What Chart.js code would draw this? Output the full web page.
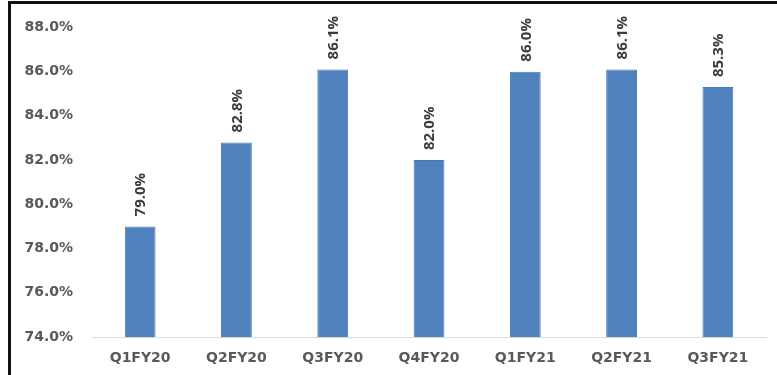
<!DOCTYPE html>
<html>
<head>
<meta charset="utf-8">
<script src="https://cdn.jsdelivr.net/npm/chart.js@4"></script>
<style>
    body { margin: 0; background: #fff; }
    #wrap { position: relative; width: 777px; height: 375px; }
    #frame {
        position: absolute; left: 8px; top: 1px; right: 0; bottom: 0;
        border-left: 3px solid #111; border-top: 3px solid #111;
        pointer-events: none;
    }
</style>
</head>
<body>
<div id="wrap">
    <canvas id="barChart" width="777" height="375"></canvas>
    <div id="frame"></div>
</div>
<script>
const quarters = ['Q1FY20', 'Q2FY20', 'Q3FY20', 'Q4FY20', 'Q1FY21', 'Q2FY21', 'Q3FY21'];
const shareValues = [79.0, 82.8, 86.1, 82.0, 86.0, 86.1, 85.3];
const yTicks = [74, 76, 78, 80, 82, 84, 86, 88];

// rotated value labels above each bar
const barLabels = {
    id: 'barLabels',
    afterDatasetsDraw(chart) {
        const ctx = chart.ctx;
        const meta = chart.getDatasetMeta(0);
        ctx.save();
        ctx.font = 'bold 15px "Open Sans"';
        ctx.fillStyle = '#3c3c3c';
        ctx.textAlign = 'left';
        ctx.textBaseline = 'middle';
        meta.data.forEach((bar, i) => {
            ctx.save();
            ctx.translate(bar.x + 1, bar.y - 10);
            ctx.rotate(-Math.PI / 2);
            ctx.fillText(shareValues[i].toFixed(1) + '%', 0, 0);
            ctx.restore();
        });
        ctx.restore();
    }
};

const ctx = document.getElementById('barChart').getContext('2d');
new Chart(ctx, {
    type: 'bar',
    data: {
        labels: quarters,
        datasets: [{
            data: shareValues,
            backgroundColor: '#4f81bd',
            borderColor: '#4a7ab5',
            borderWidth: 1,
            barPercentage: 0.32,
            categoryPercentage: 1
        }]
    },
    options: {
        responsive: false,
        animation: false,
        layout: { padding: { top: 22, right: 11, left: 0, bottom: 0 } },
        plugins: {
            legend: { display: false },
            tooltip: { enabled: false }
        },
        scales: {
            x: {
                grid: { display: false, drawTicks: false },
                border: { color: '#d9d9d9', width: 1 },
                ticks: {
                    padding: 13,
                    color: '#595959',
                    font: { family: 'DejaVu Sans', size: 14, weight: 'bold' }
                },
                afterFit(scale) { scale.height = 38; }
            },
            y: {
                min: yTicks[0],
                max: yTicks[yTicks.length - 1],
                afterBuildTicks(scale) {
                    scale.ticks = yTicks.map(v => ({ value: v }));
                },
                grid: { display: false, drawTicks: false },
                border: { display: false },
                ticks: {
                    padding: 19,
                    color: '#595959',
                    font: { family: 'DejaVu Sans', size: 14, weight: 'bold' },
                    callback: v => v.toFixed(1) + '%'
                },
                afterFit(scale) { scale.width = 92; }
            }
        }
    },
    plugins: [barLabels]
});
</script>
</body>
</html>
